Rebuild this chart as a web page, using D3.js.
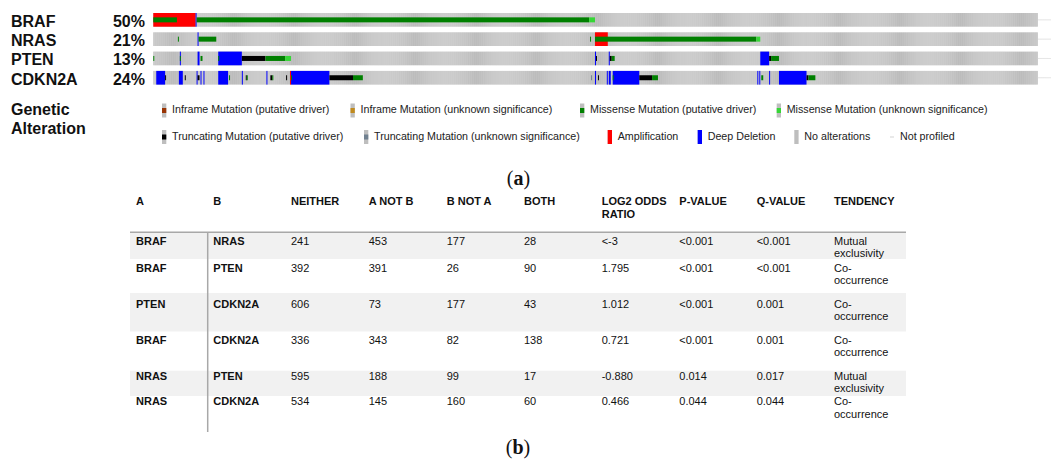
<!DOCTYPE html>
<html><head><meta charset="utf-8">
<script src="https://cdn.jsdelivr.net/npm/d3@7"></script>
<style>
html,body{margin:0;padding:0;background:#fff;}
svg{display:block;}
</style></head>
<body>
<svg id="chart" width="1051" height="460"></svg>
<script>
// ---------------- DATA ----------------
const genes = ["BRAF", "NRAS", "PTEN", "CDKN2A"];
const genePct = ["50%", "21%", "13%", "24%"];
const nSamples = 899;        // profiled samples
const nNotProfiled = 14;     // samples not profiled (off to the right)

// alteration segments: [startSample, endSample(exclusive), type]
const brafAlt = [
  [0, 43, "amp"], [43, 44, "del"],
  [0, 24, "mis"], [44, 443, "mis"], [443, 449, "misU"]
];
const nrasAlt = [
  [45, 46, "del"], [449, 462, "amp"],
  [25, 26, "mis"], [46, 64, "mis"], [444, 445, "mis"],
  [449, 613, "mis"], [613, 617, "misU"]
];
const ptenAlt = [
  [27, 28, "del"], [45, 47, "del"], [66, 90, "del"], [449, 450, "del"],
  [463, 464, "del"], [617, 626, "del"],
  [0, 1, "mis"], [27, 28, "mis"], [48, 50, "mis"], [66, 67, "mis"],
  [90, 114, "trunc"], [114, 134, "mis"], [134, 140, "misU"],
  [450, 451, "trunc"], [464, 466, "trunc"], [466, 469, "mis"],
  [626, 628, "trunc"], [628, 636, "mis"]
];
const cdkn2aAlt = [
  [3, 12, "del"], [26, 30, "del"], [44, 45, "del"], [48, 49, "del"], [51, 52, "del"],
  [66, 76, "del"], [90, 91, "del"], [115, 116, "del"], [139, 140, "amp"], [140, 179, "del"],
  [449, 450, "del"], [461, 462, "del"], [463, 465, "del"], [467, 494, "del"],
  [614, 615, "del"], [616, 617, "del"], [626, 627, "del"], [636, 664, "del"],
  [12, 13, "trunc"], [32, 33, "trunc"], [45, 47, "trunc"], [77, 78, "mis"],
  [94, 95, "trunc"], [95, 96, "mis"], [119, 121, "trunc"], [121, 122, "mis"],
  [135, 136, "trunc"], [140, 141, "mis"], [179, 203, "trunc"], [203, 213, "mis"],
  [445, 446, "truncU"], [452, 453, "trunc"], [467, 468, "mis"], [494, 507, "trunc"],
  [507, 513, "mis"], [618, 620, "mis"], [664, 666, "trunc"], [666, 673, "mis"]
];
const geneAlts = [brafAlt, nrasAlt, ptenAlt, cdkn2aAlt];

// legend
const legendLabels = [
  "Inframe Mutation (putative driver)", "Inframe Mutation (unknown significance)",
  "Missense Mutation (putative driver)", "Missense Mutation (unknown significance)",
  "Truncating Mutation (putative driver)", "Truncating Mutation (unknown significance)",
  "Amplification", "Deep Deletion", "No alterations", "Not profiled"
];
const legendTypes = ["infr", "infrU", "mis", "misU", "trunc", "truncU", "amp", "del", "none", "np"];

// table
const tableHeader = ["A", "B", "NEITHER", "A NOT B", "B NOT A", "BOTH", "LOG2 ODDS|RATIO", "P-VALUE", "Q-VALUE", "TENDENCY"];
const colA = ["BRAF", "BRAF", "PTEN", "BRAF", "NRAS", "NRAS"];
const colB = ["NRAS", "PTEN", "CDKN2A", "CDKN2A", "PTEN", "CDKN2A"];
const neither = [241, 392, 606, 336, 595, 534];
const aNotB = [453, 391, 73, 343, 188, 145];
const bNotA = [177, 26, 177, 82, 99, 160];
const both = [28, 90, 43, 138, 17, 60];
const log2Odds = ["<-3", "1.795", "1.012", "0.721", "-0.880", "0.466"];
const pValue = ["<0.001", "<0.001", "<0.001", "<0.001", "0.014", "0.044"];
const qValue = ["<0.001", "<0.001", "0.001", "0.001", "0.017", "0.044"];
const tendency = ["Mutual|exclusivity", "Co-|occurrence", "Co-|occurrence", "Co-|occurrence", "Mutual|exclusivity", "Co-|occurrence"];

// ---------------- STYLE ----------------
const colors = {
  amp: "#ff0000", del: "#0000ff", mis: "#008000", misU: "#36d636",
  trunc: "#000000", truncU: "#708090", infr: "#993404", infrU: "#c08a1e",
  none: "#bebebe", np: "#d4d4d4"
};
const fullHeight = new Set(["amp", "del"]);
const sans = "'Liberation Sans', Arial, Helvetica, sans-serif";
const serif = "'Liberation Serif', 'Times New Roman', serif";

const svg = d3.select("#chart");

// ---------------- ONCOPRINT ----------------
const x = d3.scaleLinear().domain([0, nSamples]).range([153.3, 1037.7]);
const y = d3.scaleBand().domain(genes).range([13, 13 + 19.3 * 4]).paddingInner(0.29).paddingOuter(0);
// force track height ~13.7
const trackH = 13.7;
const trackY = g => 13 + genes.indexOf(g) * 19.3;
const mutH = 5;

genes.forEach((g, gi) => {
  const ty = trackY(g);
  svg.append("text").attr("x", 11).attr("y", ty + 13.6)
    .attr("font-family", sans).attr("font-weight", "bold").attr("font-size", 16)
    .attr("fill", "#111").text(g);
  svg.append("text").attr("x", 145).attr("y", ty + 13.6).attr("text-anchor", "end")
    .attr("font-family", sans).attr("font-weight", "bold").attr("font-size", 16)
    .attr("fill", "#111").text(genePct[gi]);

  const tg = svg.append("g");
  // no-alteration cells
  tg.selectAll("rect.bg").data(d3.range(nSamples)).join("rect")
    .attr("class", "bg")
    .attr("x", i => x(i)).attr("width", i => x(i + 1) - x(i) + 0.05)
    .attr("y", ty).attr("height", trackH)
    .attr("fill", (i) => i % 2 ? "#c0c0c0" : "#bcbcbc");
  // not profiled
  tg.selectAll("rect.np").data(d3.range(nSamples, nSamples + nNotProfiled)).join("rect")
    .attr("class", "np")
    .attr("x", i => x(i) + 0.15).attr("width", i => x(i + 1) - x(i) - 0.3)
    .attr("y", ty + trackH / 2 - 0.5).attr("height", 1)
    .attr("fill", colors.np);
  const alts = geneAlts[gi];
  // CNA (full height)
  tg.selectAll("rect.cna").data(alts.filter(d => fullHeight.has(d[2]))).join("rect")
    .attr("class", "cna")
    .attr("x", d => x(d[0])).attr("width", d => x(d[1]) - x(d[0]))
    .attr("y", ty).attr("height", trackH)
    .attr("fill", d => colors[d[2]]);
  // mutations (middle third)
  tg.selectAll("rect.mut").data(alts.filter(d => !fullHeight.has(d[2]))).join("rect")
    .attr("class", "mut")
    .attr("x", d => x(d[0])).attr("width", d => x(d[1]) - x(d[0]))
    .attr("y", ty + (trackH - mutH) / 2).attr("height", mutH)
    .attr("fill", d => colors[d[2]]);
});

// ---------------- LEGEND ----------------
svg.append("text").attr("font-family", sans).attr("font-weight", "bold").attr("font-size", 16)
  .attr("fill", "#111")
  .selectAll("tspan").data(["Genetic", "Alteration"]).join("tspan")
  .attr("x", 11).attr("y", (d, i) => 115 + i * 19.3).text(d => d);

const legendX = [162, 350.5, 580, 776.7, 162, 364, 607.7, 697.7, 794.3, 890];
const legendRow = [0, 0, 0, 0, 1, 1, 1, 1, 1, 1];
const rowSwY = [103.5, 130];
const rowBase = [113, 140];
const lg = svg.append("g").selectAll("g").data(legendLabels).join("g")
  .attr("transform", (d, i) => `translate(${legendX[i]},${rowSwY[legendRow[i]]})`);
lg.each(function (d, i) {
  const g = d3.select(this);
  const t = legendTypes[i];
  if (t === "np") {
    g.append("rect").attr("x", 0).attr("y", 6.5).attr("width", 4).attr("height", 1).attr("fill", colors.np);
  } else {
    g.append("rect").attr("x", 0).attr("y", 0).attr("width", 4.3).attr("height", 14).attr("fill", colors.none);
    if (t !== "none") {
      if (fullHeight.has(t)) g.append("rect").attr("x", 0).attr("y", 0).attr("width", 4.3).attr("height", 14).attr("fill", colors[t]);
      else g.append("rect").attr("x", 0).attr("y", 4.5).attr("width", 4.3).attr("height", 5).attr("fill", colors[t]);
    }
  }
  g.append("text").attr("x", 10).attr("y", rowBase[legendRow[i]] - rowSwY[legendRow[i]])
    .attr("font-family", sans).attr("font-size", 10.7).attr("fill", "#222").text(d);
});

// (a)
function panelLabel(letter, cx, base) {
  const t = svg.append("text").attr("x", cx).attr("y", base).attr("text-anchor", "middle")
    .attr("font-family", serif).attr("font-size", 20).attr("fill", "#111");
  t.append("tspan").text("(");
  t.append("tspan").attr("font-weight", "bold").text(letter);
  t.append("tspan").text(")");
}
panelLabel("a", 518.5, 185);
panelLabel("b", 518, 454);

// ---------------- TABLE ----------------
const colX = [136, 213.3, 291, 368.7, 446.7, 524, 601.7, 679.3, 756.7, 834];
const rowTop = [232.3, 259, 293, 331.7, 370.7, 396];
const rowBottom = [259, 293, 331.7, 370.7, 396, 432];
const rowBaseline = [244.5, 271.5, 307.5, 343.5, 379.5, 405];
const tableL = 130, tableR = 906;

const rows = d3.range(colA.length).map(i => [colA[i], colB[i], neither[i], aNotB[i], bNotA[i], both[i], log2Odds[i], pValue[i], qValue[i], tendency[i]]);

svg.append("g").selectAll("rect").data(rows).join("rect")
  .attr("x", tableL).attr("width", tableR - tableL)
  .attr("y", (d, i) => rowTop[i]).attr("height", (d, i) => rowBottom[i] - rowTop[i])
  .attr("fill", (d, i) => i % 2 === 0 ? "#f1f1f1" : "#ffffff");

// header
svg.append("g").selectAll("text").data(tableHeader).join("text")
  .attr("font-family", sans).attr("font-weight", "bold").attr("font-size", 11).attr("fill", "#111")
  .each(function (d, i) {
    d3.select(this).selectAll("tspan").data(d.split("|")).join("tspan")
      .attr("x", colX[i]).attr("y", (s, k) => 205 + k * 13).text(s => s);
  });

svg.append("line").attr("x1", tableL).attr("x2", tableR).attr("y1", 232.3).attr("y2", 232.3)
  .attr("stroke", "#a8a8a8").attr("stroke-width", 1.5);
svg.append("line").attr("x1", 207.7).attr("x2", 207.7).attr("y1", 232.3).attr("y2", 432)
  .attr("stroke", "#a8a8a8").attr("stroke-width", 1.5);

const rg = svg.append("g").selectAll("g").data(rows).join("g");
rg.each(function (row, ri) {
  const g = d3.select(this);
  row.forEach((v, ci) => {
    const t = g.append("text").attr("font-family", sans).attr("font-size", 11).attr("fill", "#111")
      .attr("font-weight", ci < 2 ? "bold" : "normal");
    String(v).split("|").forEach((s, k) => {
      t.append("tspan").attr("x", colX[ci]).attr("y", rowBaseline[ri] + k * 12.9).text(s);
    });
  });
});
</script>
</body></html>
